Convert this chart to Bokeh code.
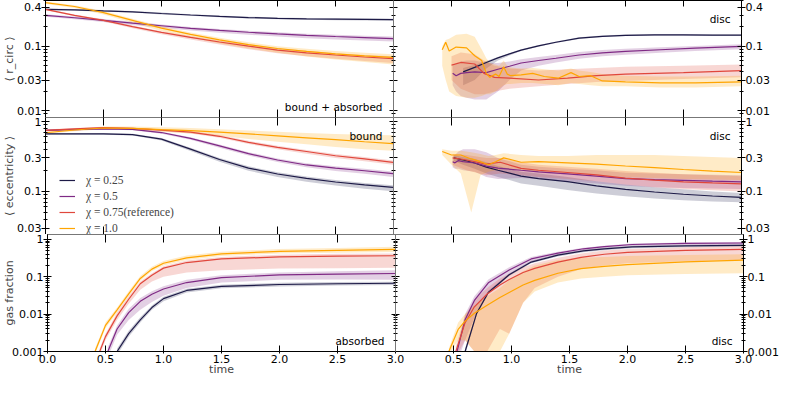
from bokeh.plotting import figure
from bokeh.models import (Range1d, FixedTicker, LinearAxis, LogAxis, Label, Legend,
                          LegendItem, CustomJSTickFormatter)
from bokeh.layouts import row, column
from bokeh.embed import file_html
from bokeh.resources import INLINE

# ---------------------------------------------------------------- data
CHI_LABELS = ["χ = 0.25", "χ = 0.5", "χ = 0.75(reference)", "χ = 1.0"]
COLORS = ["#1d1a47", "#7f2a85", "#e0473c", "#ffa500"]

X_TICKS_LEFT = [0.0, 0.5, 1.0, 1.5, 2.0, 2.5, 3.0]
X_TICKS_RIGHT = [0.5, 1.0, 1.5, 2.0, 2.5, 3.0]
RC_TICKS = [0.01, 0.03, 0.1, 0.4]
EC_TICKS = [0.03, 0.1, 0.3, 1]
GF_TICKS = [0.001, 0.01, 0.1, 1]

T_LEFT = [0.0, 0.25, 0.5, 0.75, 1.0, 1.25, 1.5, 1.75, 2.0, 2.25, 2.5, 2.75, 3.0]

# --- <r_circ>, bound + absorbed
RC_B_025 = [0.37, 0.365, 0.35, 0.34, 0.32, 0.303, 0.288, 0.277, 0.269, 0.264, 0.261, 0.259, 0.257]
RC_B_025_LO = [0.358, 0.354, 0.34, 0.33, 0.31, 0.294, 0.279, 0.268, 0.26, 0.255, 0.252, 0.25, 0.248]
RC_B_025_HI = [0.381, 0.376, 0.361, 0.35, 0.33, 0.312, 0.297, 0.286, 0.278, 0.272, 0.269, 0.267, 0.265]
RC_B_05 = [0.30, 0.275, 0.25, 0.227, 0.207, 0.189, 0.175, 0.164, 0.155, 0.147, 0.141, 0.136, 0.131]
RC_B_05_LO = [0.285, 0.26, 0.236, 0.213, 0.193, 0.175, 0.161, 0.15, 0.141, 0.133, 0.127, 0.122, 0.118]
RC_B_05_HI = [0.312, 0.287, 0.262, 0.238, 0.217, 0.198, 0.184, 0.173, 0.164, 0.156, 0.15, 0.145, 0.141]
RC_B_075 = [0.37, 0.30, 0.25, 0.20, 0.163, 0.137, 0.116, 0.100, 0.087, 0.079, 0.073, 0.068, 0.064]
RC_B_075_LO = [0.36, 0.29, 0.24, 0.19, 0.153, 0.127, 0.106, 0.09, 0.078, 0.07, 0.064, 0.059, 0.055]
RC_B_075_HI = [0.38, 0.31, 0.26, 0.208, 0.17, 0.143, 0.122, 0.106, 0.093, 0.085, 0.078, 0.073, 0.07]
RC_B_10 = [0.47, 0.41, 0.33, 0.25, 0.19, 0.152, 0.125, 0.106, 0.092, 0.083, 0.076, 0.071, 0.067]
RC_B_10_LO = [0.45, 0.39, 0.31, 0.23, 0.172, 0.136, 0.11, 0.092, 0.079, 0.069, 0.062, 0.057, 0.052]
RC_B_10_HI = [0.49, 0.43, 0.35, 0.265, 0.203, 0.163, 0.135, 0.115, 0.1, 0.091, 0.084, 0.079, 0.075]

# --- <r_circ>, disc
T_RC_D_025 = [0.6, 0.7, 0.8, 0.9, 1.0, 1.1, 1.25, 1.4, 1.6, 1.8, 2.0, 2.25, 2.5, 2.75, 3.0]
RC_D_025 = [0.040, 0.047, 0.056, 0.066, 0.076, 0.087, 0.101, 0.115, 0.133, 0.142, 0.147, 0.149, 0.149, 0.148, 0.148]
RC_D_025_LO = [0.025, 0.03, 0.045, 0.06, 0.072, 0.084, 0.098, 0.112, 0.129, 0.138, 0.143, 0.145, 0.145, 0.144, 0.144]
RC_D_025_HI = [0.046, 0.051, 0.059, 0.068, 0.078, 0.09, 0.104, 0.118, 0.137, 0.146, 0.151, 0.153, 0.153, 0.152, 0.152]
T_RC_D_05 = [0.51, 0.54, 0.58, 0.63, 0.7, 0.8, 0.9, 1.0, 1.1, 1.25, 1.4, 1.6, 1.8, 2.0, 2.3, 2.6, 3.0]
RC_D_05 = [0.038, 0.035, 0.038, 0.039, 0.040, 0.039, 0.044, 0.049, 0.055, 0.060, 0.065, 0.073, 0.079, 0.083, 0.088, 0.093, 0.099]
RC_D_05_LO = [0.025, 0.02, 0.017, 0.016, 0.015, 0.015, 0.02, 0.03, 0.042, 0.05, 0.056, 0.064, 0.07, 0.074, 0.079, 0.084, 0.09]
RC_D_05_HI = [0.05, 0.055, 0.058, 0.06, 0.06, 0.055, 0.055, 0.058, 0.063, 0.068, 0.073, 0.081, 0.087, 0.091, 0.096, 0.101, 0.107]
T_RC_D_075 = [0.5, 0.58, 0.7, 0.78, 0.87, 1.0, 1.25, 1.5, 1.75, 2.0, 2.5, 3.0]
RC_D_075 = [0.051, 0.056, 0.053, 0.038, 0.033, 0.032, 0.030, 0.032, 0.035, 0.037, 0.039, 0.042]
RC_D_075_LO = [0.03, 0.022, 0.018, 0.018, 0.02, 0.022, 0.024, 0.026, 0.028, 0.029, 0.031, 0.033]
RC_D_075_HI = [0.07, 0.08, 0.075, 0.06, 0.05, 0.045, 0.042, 0.044, 0.046, 0.048, 0.05, 0.052]
T_RC_D_10 = [0.42, 0.45, 0.48, 0.54, 0.63, 0.70, 0.76, 0.80, 0.83, 0.88, 0.91, 0.95, 0.98,
             1.01, 1.1, 1.2, 1.3, 1.42, 1.53, 1.6, 1.7, 1.8, 2.0, 2.3, 2.6, 3.0]
RC_D_10 = [0.088, 0.115, 0.084, 0.097, 0.094, 0.071, 0.060, 0.038, 0.033, 0.037, 0.034, 0.048, 0.037,
           0.035, 0.036, 0.038, 0.034, 0.032, 0.039, 0.034, 0.035, 0.029, 0.028, 0.027, 0.027, 0.028]
RC_D_10_LO = [0.05, 0.03, 0.02, 0.017, 0.016, 0.016, 0.017, 0.018, 0.018, 0.02, 0.022, 0.025, 0.026,
              0.026, 0.027, 0.027, 0.026, 0.025, 0.027, 0.026, 0.025, 0.024, 0.024, 0.023, 0.023, 0.024]
RC_D_10_HI = [0.10, 0.125, 0.13, 0.15, 0.155, 0.14, 0.09, 0.065, 0.055, 0.052, 0.05, 0.06, 0.05,
              0.047, 0.045, 0.046, 0.044, 0.042, 0.045, 0.042, 0.04, 0.037, 0.035, 0.034, 0.034, 0.035]

# --- <eccentricity>, bound
EC_B_025 = [0.66, 0.66, 0.66, 0.645, 0.555, 0.40, 0.285, 0.215, 0.177, 0.153, 0.136, 0.124, 0.114]
EC_B_025_LO = [0.64, 0.64, 0.64, 0.625, 0.53, 0.375, 0.265, 0.197, 0.16, 0.137, 0.121, 0.109, 0.1]
EC_B_025_HI = [0.68, 0.68, 0.68, 0.665, 0.575, 0.42, 0.3, 0.228, 0.188, 0.163, 0.145, 0.132, 0.122]
EC_B_05 = [0.74, 0.76, 0.78, 0.765, 0.69, 0.57, 0.445, 0.345, 0.28, 0.238, 0.215, 0.197, 0.179]
EC_B_05_LO = [0.72, 0.74, 0.76, 0.745, 0.665, 0.545, 0.42, 0.325, 0.262, 0.22, 0.196, 0.178, 0.16]
EC_B_05_HI = [0.76, 0.78, 0.8, 0.785, 0.71, 0.59, 0.465, 0.362, 0.295, 0.252, 0.228, 0.21, 0.192]
EC_B_075 = [0.74, 0.78, 0.81, 0.79, 0.745, 0.70, 0.61, 0.50, 0.425, 0.37, 0.322, 0.29, 0.259]
EC_B_075_LO = [0.72, 0.76, 0.79, 0.77, 0.72, 0.67, 0.58, 0.475, 0.4, 0.345, 0.3, 0.268, 0.24]
EC_B_075_HI = [0.76, 0.8, 0.83, 0.81, 0.77, 0.725, 0.635, 0.525, 0.447, 0.39, 0.342, 0.308, 0.275]
EC_B_10 = [0.685, 0.75, 0.80, 0.79, 0.76, 0.735, 0.70, 0.66, 0.62, 0.58, 0.545, 0.51, 0.48]
EC_B_10_LO = [0.66, 0.72, 0.77, 0.75, 0.71, 0.67, 0.62, 0.56, 0.51, 0.47, 0.43, 0.40, 0.38]
EC_B_10_HI = [0.71, 0.78, 0.84, 0.84, 0.82, 0.80, 0.77, 0.74, 0.71, 0.68, 0.66, 0.64, 0.63]

# --- <eccentricity>, disc
T_EC_D_025 = [0.52, 0.6, 0.7, 0.8, 0.9, 1.0, 1.1, 1.25, 1.5, 1.75, 2.0, 2.25, 2.5, 2.75, 3.0]
EC_D_025 = [0.30, 0.28, 0.254, 0.222, 0.2, 0.182, 0.165, 0.152, 0.138, 0.12, 0.107, 0.098, 0.091, 0.086, 0.082]
EC_D_025_LO = [0.27, 0.24, 0.21, 0.18, 0.16, 0.145, 0.13, 0.12, 0.105, 0.093, 0.085, 0.079, 0.075, 0.072, 0.07]
EC_D_025_HI = [0.33, 0.31, 0.29, 0.26, 0.23, 0.21, 0.19, 0.18, 0.16, 0.14, 0.125, 0.115, 0.107, 0.1, 0.095]
T_EC_D_05 = [0.51, 0.53, 0.56, 0.6, 0.7, 0.8, 0.9, 1.1, 1.25, 1.5, 1.75, 2.0, 2.25, 2.5, 2.75, 3.0]
EC_D_05 = [0.265, 0.255, 0.275, 0.265, 0.254, 0.229, 0.215, 0.20, 0.19, 0.178, 0.165, 0.152, 0.147, 0.144, 0.14, 0.137]
EC_D_05_LO = [0.22, 0.21, 0.21, 0.2, 0.19, 0.16, 0.15, 0.155, 0.15, 0.14, 0.13, 0.12, 0.115, 0.112, 0.11, 0.108]
EC_D_05_HI = [0.31, 0.33, 0.37, 0.40, 0.40, 0.36, 0.30, 0.24, 0.225, 0.21, 0.2, 0.185, 0.18, 0.175, 0.172, 0.17]
T_EC_D_075 = [0.51, 0.63, 0.8, 0.92, 1.1, 1.25, 1.5, 1.75, 2.0, 2.25, 2.5, 2.75, 3.0]
EC_D_075 = [0.30, 0.28, 0.245, 0.26, 0.213, 0.20, 0.186, 0.172, 0.155, 0.145, 0.137, 0.132, 0.128]
EC_D_075_LO = [0.24, 0.2, 0.17, 0.18, 0.17, 0.16, 0.15, 0.14, 0.125, 0.115, 0.108, 0.104, 0.1]
EC_D_075_HI = [0.34, 0.33, 0.30, 0.30, 0.26, 0.24, 0.225, 0.21, 0.195, 0.185, 0.175, 0.17, 0.165]
T_EC_D_10 = [0.42, 0.5, 0.58, 0.67, 0.75, 0.82, 0.88, 0.95, 1.1, 1.25, 1.5, 1.75, 2.0, 2.25, 2.5, 2.75, 3.0]
EC_D_10 = [0.37, 0.33, 0.33, 0.29, 0.265, 0.24, 0.265, 0.30, 0.26, 0.265, 0.255, 0.245, 0.23, 0.218, 0.205, 0.195, 0.186]
EC_D_10_LO = [0.33, 0.24, 0.18, 0.05, 0.17, 0.19, 0.2, 0.21, 0.2, 0.19, 0.18, 0.17, 0.16, 0.155, 0.15, 0.148, 0.145]
EC_D_10_HI = [0.40, 0.38, 0.38, 0.36, 0.34, 0.32, 0.33, 0.35, 0.33, 0.32, 0.32, 0.33, 0.33, 0.33, 0.32, 0.31, 0.30]

# --- gas fraction, absorbed
T_GF_A_025 = [0.6, 0.7, 0.8, 0.9, 1.0, 1.2, 1.5, 2.0, 2.5, 3.0]
GF_A_025 = [0.001, 0.003, 0.007, 0.015, 0.026, 0.043, 0.055, 0.062, 0.065, 0.067]
GF_A_025_LO = [0.0008, 0.0025, 0.006, 0.013, 0.022, 0.038, 0.049, 0.055, 0.058, 0.06]
GF_A_025_HI = [0.0012, 0.0036, 0.0083, 0.017, 0.029, 0.048, 0.061, 0.069, 0.072, 0.074]
T_GF_A_05 = [0.52, 0.6, 0.7, 0.8, 0.9, 1.0, 1.2, 1.5, 2.0, 2.5, 3.0]
GF_A_05 = [0.001, 0.004, 0.011, 0.022, 0.034, 0.047, 0.07, 0.095, 0.112, 0.118, 0.122]
GF_A_05_LO = [0.0007, 0.0028, 0.007, 0.013, 0.021, 0.031, 0.05, 0.07, 0.083, 0.085, 0.083]
GF_A_05_HI = [0.0013, 0.005, 0.014, 0.027, 0.041, 0.056, 0.083, 0.11, 0.13, 0.14, 0.15]
T_GF_A_075 = [0.45, 0.5, 0.6, 0.7, 0.8, 0.9, 1.0, 1.2, 1.5, 2.0, 2.5, 3.0]
GF_A_075 = [0.001, 0.0025, 0.009, 0.025, 0.065, 0.11, 0.17, 0.24, 0.30, 0.34, 0.355, 0.365]
GF_A_075_LO = [0.0008, 0.002, 0.007, 0.019, 0.045, 0.075, 0.1, 0.13, 0.15, 0.165, 0.17, 0.175]
GF_A_075_HI = [0.0012, 0.003, 0.011, 0.03, 0.075, 0.125, 0.19, 0.27, 0.34, 0.39, 0.41, 0.42]
T_GF_A_10 = [0.41, 0.5, 0.6, 0.7, 0.8, 0.9, 1.0, 1.2, 1.5, 2.0, 2.5, 3.0]
GF_A_10 = [0.001, 0.005, 0.013, 0.035, 0.09, 0.16, 0.23, 0.32, 0.41, 0.48, 0.51, 0.54]
GF_A_10_LO = [0.00085, 0.0042, 0.011, 0.03, 0.078, 0.14, 0.2, 0.28, 0.36, 0.42, 0.44, 0.46]
GF_A_10_HI = [0.0012, 0.006, 0.015, 0.041, 0.104, 0.185, 0.265, 0.37, 0.47, 0.55, 0.59, 0.63]

# --- gas fraction, disc
T_GF_D_025 = [0.6, 0.7, 0.8, 0.98, 1.17, 1.4, 1.62, 1.8, 2.04, 2.5, 3.0]
GF_D_025 = [0.001, 0.0106, 0.038, 0.113, 0.247, 0.38, 0.49, 0.56, 0.63, 0.67, 0.69]
GF_D_025_LO = [0.0008, 0.0095, 0.034, 0.104, 0.228, 0.35, 0.45, 0.515, 0.58, 0.62, 0.64]
GF_D_025_HI = [0.0012, 0.0117, 0.042, 0.122, 0.266, 0.41, 0.53, 0.6, 0.68, 0.72, 0.74]
T_GF_D_05 = [0.53, 0.6, 0.68, 0.8, 0.98, 1.17, 1.4, 1.62, 1.8, 2.04, 2.5, 3.0]
GF_D_05 = [0.001, 0.0071, 0.0233, 0.069, 0.151, 0.30, 0.43, 0.56, 0.64, 0.73, 0.78, 0.8]
GF_D_05_LO = [0.0005, 0.002, 0.008, 0.035, 0.11, 0.25, 0.38, 0.5, 0.58, 0.66, 0.7, 0.72]
GF_D_05_HI = [0.0013, 0.01, 0.03, 0.085, 0.18, 0.34, 0.47, 0.6, 0.68, 0.77, 0.83, 0.85]
T_GF_D_075 = [0.52, 0.6, 0.68, 0.79, 0.9, 0.98, 1.1, 1.2, 1.4, 1.6, 1.8, 2.0, 2.5, 3.0]
GF_D_075 = [0.001, 0.0059, 0.0157, 0.0345, 0.06, 0.084, 0.13, 0.167, 0.247, 0.33, 0.40, 0.45, 0.51, 0.54]
GF_D_075_LO = [0.0007, 0.002, 0.001, 0.001, 0.004, 0.003, 0.02, 0.05, 0.1, 0.16, 0.2, 0.23, 0.26, 0.28]
GF_D_075_HI = [0.0014, 0.009, 0.024, 0.05, 0.09, 0.12, 0.18, 0.23, 0.32, 0.42, 0.5, 0.55, 0.62, 0.66]
T_GF_D_10 = [0.46, 0.54, 0.6, 0.68, 0.79, 0.9, 0.98, 1.1, 1.2, 1.4, 1.6, 1.8, 2.0, 2.5, 3.0]
GF_D_10 = [0.001, 0.0039, 0.0065, 0.0106, 0.0173, 0.028, 0.038, 0.06, 0.08, 0.124, 0.165, 0.19, 0.21, 0.25, 0.28]
GF_D_10_LO = [0.0008, 0.002, 0.002, 0.001, 0.001, 0.001, 0.003, 0.02, 0.04, 0.07, 0.09, 0.1, 0.11, 0.118, 0.124]
GF_D_10_HI = [0.0012, 0.006, 0.01, 0.017, 0.03, 0.05, 0.08, 0.14, 0.2, 0.28, 0.32, 0.34, 0.36, 0.38, 0.4]

# ---------------------------------------------------------------- layout constants
L, R, W, H, B, OV = 42, 36, 348, 117, 26, 14
FONT = "DejaVu Sans"
TICK_FS = "11px"
BAND_ALPHA = 0.22
INNER = "#777777"

FMT_Y = CustomJSTickFormatter(code="return String(tick)")
FMT_X = CustomJSTickFormatter(code="return tick.toFixed(1)")


def log_minor(e0, e1, majors):
    out = []
    for e in range(e0, e1 + 1):
        for m in range(1, 10):
            v = round(m * 10.0 ** e, 12)
            if all(abs(v - mj) > 1e-12 for mj in majors):
                out.append(v)
    return out


def labeled_axis(cls, ticks, minor, fmt, tin, tout, mtin, mtout, standoff):
    ax = cls(ticker=FixedTicker(ticks=ticks, minor_ticks=minor), formatter=fmt)
    ax.axis_line_color = "black"
    ax.major_tick_line_color = "black"
    ax.minor_tick_line_color = "black"
    ax.major_tick_in, ax.major_tick_out = tin, tout
    ax.minor_tick_in, ax.minor_tick_out = mtin, mtout
    ax.major_label_standoff = standoff
    ax.major_label_text_font = FONT
    ax.major_label_text_font_size = TICK_FS
    ax.major_label_text_color = "black"
    return ax


def tick_only_axis(cls, positions, length, line_color):
    # an axis with no labelled ticks: its marks are drawn as (unlabelled) minor ticks
    ax = cls(ticker=FixedTicker(ticks=[], minor_ticks=positions))
    ax.axis_line_color = line_color
    ax.minor_tick_line_color = "black"
    ax.minor_tick_in, ax.minor_tick_out = length, 0
    ax.major_tick_in, ax.major_tick_out = 0, 0
    ax.major_label_standoff = 0
    return ax


def make_panel(col, r, yr, ymaj, series, tag, ylabel=None, ylabel_standoff=0):
    left = col == 0
    top = r == 0
    bottom = r == 2
    p = figure(frame_width=W, frame_height=H, x_range=Range1d(0, 3),
               y_range=Range1d(yr[0], yr[1]), y_axis_type="log",
               x_axis_location=None, y_axis_location=None,
               output_backend="svg", toolbar_location=None, min_border=0)
    p.min_border_left = L if left else 0
    p.min_border_right = (OV if bottom else 0) if left else R
    p.min_border_bottom = B if bottom else 0
    p.min_border_top = 0
    p.outline_line_color = None
    p.background_fill_color = "white"
    p.border_fill_alpha = 0
    p.grid.visible = False

    ymin = log_minor(-3, 0, ymaj)
    outer_side = "left" if left else "right"
    inner_side = "right" if left else "left"

    ax = labeled_axis(LogAxis, ymaj, ymin, FMT_Y, 4, 4, 2, 2, 0)
    if ylabel:
        ax.axis_label = ylabel
        ax.axis_label_text_font = FONT
        ax.axis_label_text_font_size = "11px"
        ax.axis_label_text_font_style = "normal"
        ax.axis_label_standoff = ylabel_standoff
    p.add_layout(ax, outer_side)
    p.add_layout(tick_only_axis(LogAxis, ymaj, 4, INNER), inner_side)
    p.add_layout(tick_only_axis(LogAxis, ymin, 2, INNER), inner_side)

    xt = X_TICKS_LEFT if left else X_TICKS_RIGHT
    if top:
        p.add_layout(tick_only_axis(LinearAxis, xt, 6, "black"), "above")
    else:
        p.add_layout(tick_only_axis(LinearAxis, xt, 8, INNER), "above")
    if bottom:
        ax = labeled_axis(LinearAxis, xt, [], FMT_X, 6, 2, 0, 0, 1)
        ax.axis_label = "time"
        ax.axis_label_text_font = FONT
        ax.axis_label_text_font_size = "11px"
        ax.axis_label_text_font_style = "normal"
        ax.axis_label_standoff = -3
        p.add_layout(ax, "below")
    else:
        p.add_layout(tick_only_axis(LinearAxis, xt, 8, INNER), "below")

    lines = []
    for (t, y, lo, hi), c in zip(series, COLORS):
        p.varea(x=t, y1=lo, y2=hi, fill_color=c, fill_alpha=BAND_ALPHA)
    for (t, y, lo, hi), c in zip(series, COLORS):
        lines.append(p.line(x=t, y=y, line_color=c, line_width=1.2))

    tag_top = tag[1] == "top"
    p.add_layout(Label(x=3.0, y=yr[1] if tag_top else yr[0], text=tag[0],
                       x_offset=-11, y_offset=-12 if tag_top else 11,
                       text_align="right", text_baseline="top" if tag_top else "alphabetic",
                       text_font=FONT, text_font_size="10.5px", text_color="black"))
    return p, lines


RC_RANGE = (0.0079, 0.508)
EC_RANGE = (0.0243, 1.13)
GF_RANGE = (0.001, 1.35)

p11, _ = make_panel(0, 0, RC_RANGE, RC_TICKS, [
    (T_LEFT, RC_B_025, RC_B_025_LO, RC_B_025_HI),
    (T_LEFT, RC_B_05, RC_B_05_LO, RC_B_05_HI),
    (T_LEFT, RC_B_075, RC_B_075_LO, RC_B_075_HI),
    (T_LEFT, RC_B_10, RC_B_10_LO, RC_B_10_HI)],
    ("bound + absorbed", "bottom"), "⟨ r_circ ⟩", -2)
p12, _ = make_panel(1, 0, RC_RANGE, RC_TICKS, [
    (T_RC_D_025, RC_D_025, RC_D_025_LO, RC_D_025_HI),
    (T_RC_D_05, RC_D_05, RC_D_05_LO, RC_D_05_HI),
    (T_RC_D_075, RC_D_075, RC_D_075_LO, RC_D_075_HI),
    (T_RC_D_10, RC_D_10, RC_D_10_LO, RC_D_10_HI)],
    ("disc", "top"))
p21, lines21 = make_panel(0, 1, EC_RANGE, EC_TICKS, [
    (T_LEFT, EC_B_025, EC_B_025_LO, EC_B_025_HI),
    (T_LEFT, EC_B_05, EC_B_05_LO, EC_B_05_HI),
    (T_LEFT, EC_B_075, EC_B_075_LO, EC_B_075_HI),
    (T_LEFT, EC_B_10, EC_B_10_LO, EC_B_10_HI)],
    ("bound", "top"), "⟨ eccentricity ⟩", -2)
p22, _ = make_panel(1, 1, EC_RANGE, EC_TICKS, [
    (T_EC_D_025, EC_D_025, EC_D_025_LO, EC_D_025_HI),
    (T_EC_D_05, EC_D_05, EC_D_05_LO, EC_D_05_HI),
    (T_EC_D_075, EC_D_075, EC_D_075_LO, EC_D_075_HI),
    (T_EC_D_10, EC_D_10, EC_D_10_LO, EC_D_10_HI)],
    ("disc", "top"))
p31, _ = make_panel(0, 2, GF_RANGE, GF_TICKS, [
    (T_GF_A_025, GF_A_025, GF_A_025_LO, GF_A_025_HI),
    (T_GF_A_05, GF_A_05, GF_A_05_LO, GF_A_05_HI),
    (T_GF_A_075, GF_A_075, GF_A_075_LO, GF_A_075_HI),
    (T_GF_A_10, GF_A_10, GF_A_10_LO, GF_A_10_HI)],
    ("absorbed", "bottom"), "gas fraction", -7)
p32, _ = make_panel(1, 2, GF_RANGE, GF_TICKS, [
    (T_GF_D_025, GF_D_025, GF_D_025_LO, GF_D_025_HI),
    (T_GF_D_05, GF_D_05, GF_D_05_LO, GF_D_05_HI),
    (T_GF_D_075, GF_D_075, GF_D_075_LO, GF_D_075_HI),
    (T_GF_D_10, GF_D_10, GF_D_10_LO, GF_D_10_HI)],
    ("disc", "bottom"))
p31.margin = (0, -OV, 0, 0)

# legend (line + light halo, as in the reference)
items = []
for lab, c, ln in zip(CHI_LABELS, COLORS, lines21):
    halo = p21.line(x=[], y=[], line_color=c, line_width=5, line_alpha=0.3)
    items.append(LegendItem(label=lab, renderers=[halo, ln]))
legend = Legend(items=items, location=(14, -1), padding=0, margin=0, spacing=2,
                glyph_width=16, glyph_height=14, label_height=14, label_standoff=11,
                label_text_font="Liberation Serif", label_text_font_size="11.5px",
                border_line_color=None, background_fill_alpha=0)
p21.add_layout(legend)

layout = column(row(p11, p12), row(p21, p22), row(p31, p32))

open("out.html", "w").write(file_html(layout, INLINE))
